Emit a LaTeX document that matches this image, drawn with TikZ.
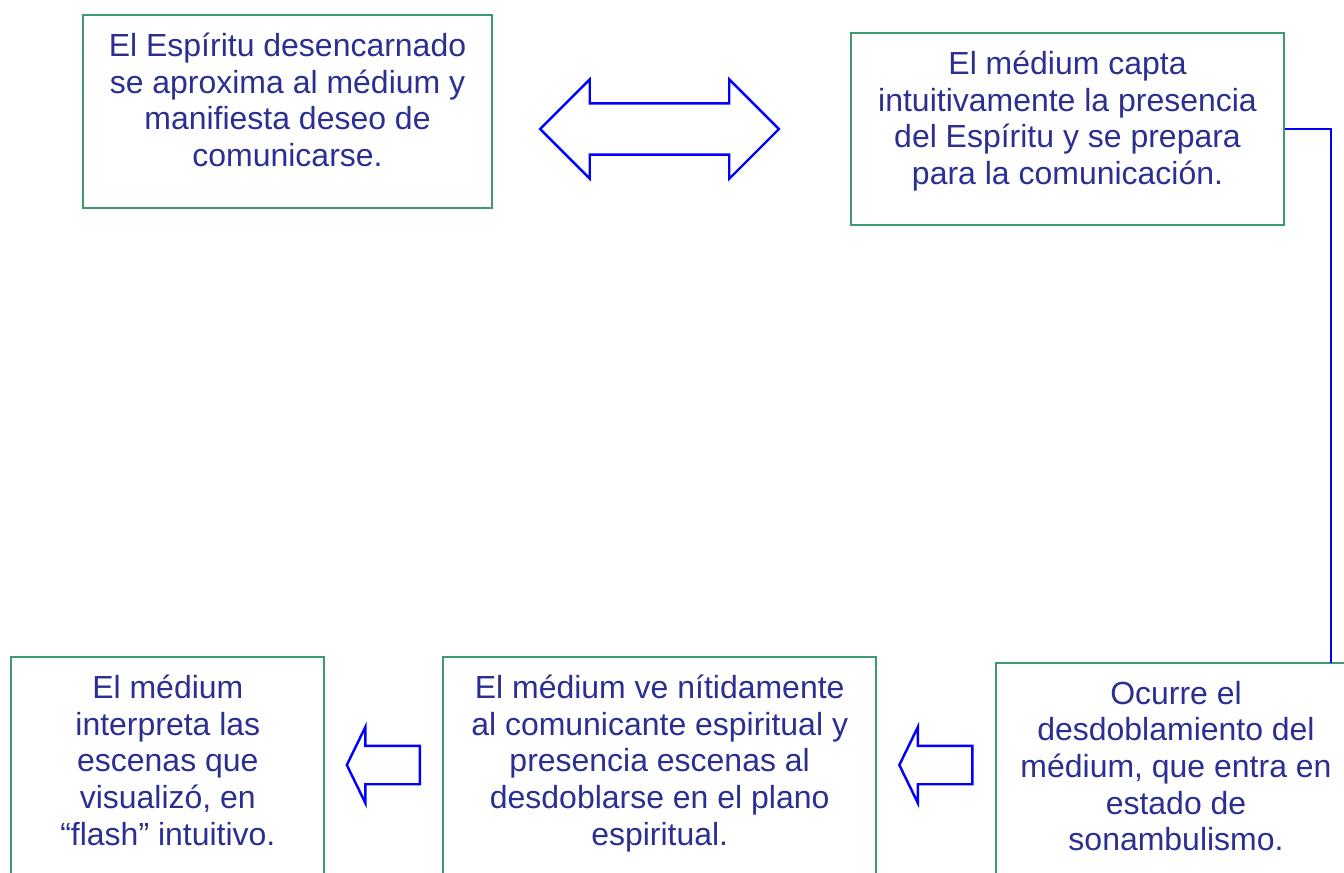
\documentclass[tikz,border=0pt]{standalone}
\usepackage{fontspec}
\setmainfont{Liberation Sans}
\usetikzlibrary{positioning, shapes.arrows}
\definecolor{boxgreen}{RGB}{61,153,112}
\definecolor{txtblue}{RGB}{43,47,145}
\definecolor{arrblue}{RGB}{0,0,255}

\begin{document}
\begin{tikzpicture}[
    x=0.02cm, y=-0.02cm,
    node distance=2.36cm,
    box/.style={draw=boxgreen, line width=1.1pt, inner sep=0pt},
    txt/.style={text=txtblue, align=center, font=\fontsize{18.2}{20.9}\selectfont, inner sep=0pt, anchor=north, yshift=-0.37cm},
    bigarr/.style={double arrow, draw=arrblue, line width=1.4pt, inner xsep=0pt, inner ysep=0.49cm, double arrow head extend=0.48cm, minimum height=4.78cm},
    smallarr/.style={single arrow, shape border rotate=180, draw=arrblue, line width=1.4pt, inner xsep=0pt, inner ysep=0.36cm, single arrow head extend=0.38cm, single arrow tip angle=128, minimum height=1.46cm},
    link/.style={draw=arrblue, line width=1.1pt}
]
\useasboundingbox (0,0) rectangle (1344,872);
\clip (0,0) rectangle (1344,872);

\node[box, minimum width=8.18cm, minimum height=3.86cm,
      label={[txt]north:{El Espíritu desencarnado\\se aproxima al médium y\\manifiesta deseo de\\comunicarse.}}] (b1) at (287.5,111.5) {};
\node[box, minimum width=8.66cm, minimum height=3.84cm,
      label={[txt]north:{El médium capta\\intuitivamente la presencia\\del Espíritu y se prepara\\para la comunicación.}}] (b2) at (1067.5,129) {};
\node[box, minimum width=7.2cm, minimum height=4.8cm,
      label={[txt]north:{Ocurre el\\desdoblamiento del\\médium, que entra en\\estado de\\sonambulismo.}}] (b3) at (1176,783) {};
\node[box, minimum width=8.66cm, minimum height=5.04cm, left=of b3,
      label={[txt]north:{El médium ve nítidamente\\al comunicante espiritual y\\presencia escenas al\\desdoblarse en el plano\\espiritual.}}] (b4) {};
\node[box, minimum width=6.26cm, minimum height=5.04cm, left=2.34cm of b4,
      label={[txt]north:{El médium\\interpreta las\\escenas que\\visualizó, en\\“flash” intuitivo.}}] (b5) {};

\node[bigarr] (swap) at (659.5,129) {};
\node[smallarr] (back1) at (388,765) {};
\node[smallarr] (back2) at (940.5,765) {};

\coordinate (drop) at (1331,663);
\draw[link] (b2.east) -| (drop);
\end{tikzpicture}
\end{document}
